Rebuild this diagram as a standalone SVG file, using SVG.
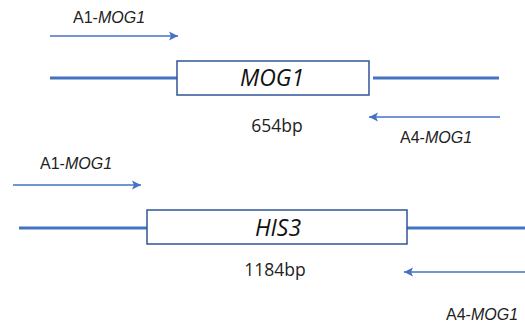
<svg xmlns="http://www.w3.org/2000/svg" width="525" height="326" viewBox="0 0 525 326">
<defs>
<marker id="ah" markerWidth="10" markerHeight="10" refX="9" refY="5" orient="auto" markerUnits="userSpaceOnUse">
<path d="M0,0.5 L9,5 L0,9.5 L2,5 Z" fill="#4472C4"/>
</marker>
</defs>
<style>
.dna{stroke:#4472C4;stroke-width:3;fill:none}
.pr{stroke:#4472C4;stroke-width:1.5;fill:none;marker-end:url(#ah)}
.box{fill:#fff;stroke:#2F5597;stroke-width:1.5}
.lbl{font-family:"Liberation Sans",Arial,sans-serif;font-size:16px;fill:#222}
.it{font-style:italic}
.gene{font-family:"Open Sans","Liberation Sans",sans-serif;font-style:italic;font-size:23px;fill:#111}
.bp{font-family:"Open Sans","Liberation Sans",sans-serif;font-size:17.5px;fill:#222}
</style>
<rect width="525" height="326" fill="#fff"/>
<g id="connectors">
<line class="pr" x1="50" y1="36" x2="178" y2="36"/>
<line class="pr" x1="500" y1="117" x2="369" y2="117"/>
<line class="pr" x1="13" y1="185" x2="141" y2="185"/>
<line class="pr" x1="525" y1="272" x2="404" y2="272"/>
<line class="dna" x1="50" y1="78" x2="177" y2="78"/>
<line class="dna" x1="373" y1="78" x2="499" y2="78"/>
<line class="dna" x1="19" y1="228" x2="147" y2="228"/>
<line class="dna" x1="407" y1="228" x2="525" y2="228"/>
</g>
<g id="mog1">
<rect class="box" x="177" y="61" width="192" height="34"/>
<text class="gene" x="272" y="86" text-anchor="middle">MOG1</text>
<text class="bp" x="277" y="132" text-anchor="middle">654bp</text>
</g>
<g id="his3">
<rect class="box" x="147" y="210" width="260" height="34"/>
<text class="gene" x="278" y="236" text-anchor="middle">HIS3</text>
<text class="bp" x="275" y="276" text-anchor="middle">1184bp</text>
</g>
<g id="primer-a1-top"><text class="lbl" x="73" y="23">A1-<tspan class="it">MOG1</tspan></text></g>
<g id="primer-a4-top"><text class="lbl" x="400" y="143">A4-<tspan class="it">MOG1</tspan></text></g>
<g id="primer-a1-bottom"><text class="lbl" x="40" y="169">A1-<tspan class="it">MOG1</tspan></text></g>
<g id="primer-a4-bottom"><text class="lbl" x="446" y="320">A4-<tspan class="it">MOG1</tspan></text></g>
</svg>
